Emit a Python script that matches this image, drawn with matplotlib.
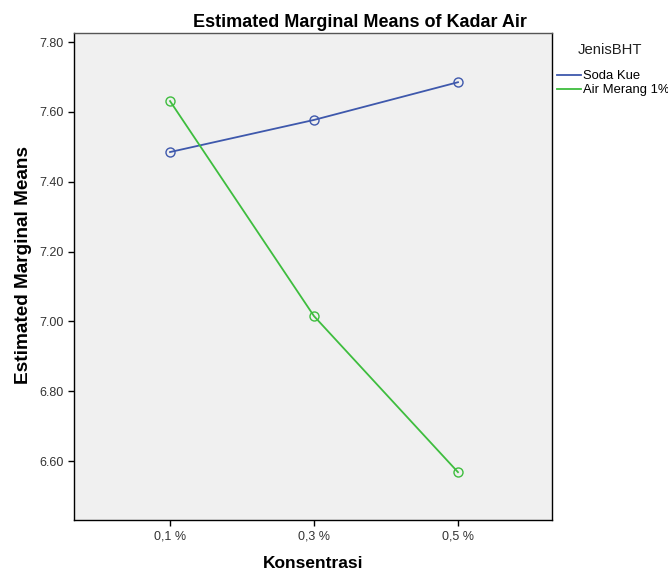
import matplotlib
matplotlib.use("Agg")
import matplotlib.pyplot as plt

plt.rcParams['font.family'] = ['Liberation Sans', 'DejaVu Sans']

konsentrasi = ['0,1 %', '0,3 %', '0,5 %']
soda_kue = [7.485, 7.577, 7.685]
air_merang = [7.631, 7.015, 6.568]
yticks = [6.60, 6.80, 7.00, 7.20, 7.40, 7.60, 7.80]

W, H = 668, 574
fig = plt.figure(figsize=(W / 100, H / 100), dpi=100)
ax = fig.add_axes([74 / W, 1 - 520 / H, 478 / W, 487 / H])
ax.set_facecolor('#f0f0f0')

x = range(len(konsentrasi))
ax.plot(x, soda_kue, color='#3e58ac', lw=1.3, marker='o', ms=6.5,
        mfc='none', mew=1.0, label='Soda Kue')
ax.plot(x, air_merang, color='#3ebd3e', lw=1.3, marker='o', ms=6.5,
        mfc='none', mew=1.0, label='Air Merang 1%')

ax.set_xlim(-0.667, 2.653)
ax.set_ylim(6.431, 7.826)
ax.set_xticks(list(x))
ax.set_xticklabels(konsentrasi, fontsize=9, color='#333333')
ax.set_yticks(yticks)
ax.set_yticklabels(['%.2f' % v for v in yticks], fontsize=9, color='#333333')
ax.tick_params(direction='out', length=4, width=1, color='black')

for s in ax.spines.values():
    s.set_color('black')
    s.set_linewidth(1.0)
ax.spines['top'].set_color('#555555')

# title centred a bit right of the axes, like the original
fig.text(360 / W, 1 - 27 / H, 'Estimated Marginal Means of Kadar Air',
         fontsize=13, fontweight='bold', ha='center', va='baseline')
ax.set_xlabel('Konsentrasi', fontsize=12.5, fontweight='bold', labelpad=10)
ax.set_ylabel('Estimated Marginal Means', fontsize=13.7, fontweight='bold')
ax.yaxis.set_label_coords(-0.088, 0.524)

# legend on the right
fig.text(610 / W, 1 - 50 / H, 'JenisBHT', fontsize=10.7, ha='center',
         va='center', color='#222222')
leg = ax.legend(loc='upper left', bbox_to_anchor=(557 / W, 1 - 70 / H),
                bbox_transform=fig.transFigure, frameon=False,
                fontsize=9.4, handlelength=1.84, handletextpad=0.15,
                borderaxespad=0, borderpad=0, labelspacing=0.15)
for h in leg.legend_handles:
    h.set_marker('')

fig.savefig('out.png', dpi=100, facecolor='white')
